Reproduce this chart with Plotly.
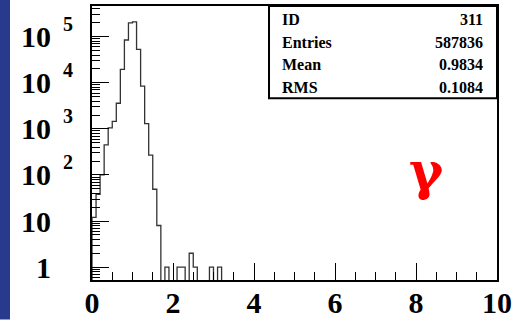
import plotly.graph_objects as go

# Histogram 311: 100 bins of width 0.1 on [0, 10]
bin_width = 0.1
n_bins = 100
first_bins = [12, 38, 100, 450, 1050, 1450, 3600, 19600, 85000, 200000,
              210000, 53000, 8500, 1300, 270, 49, 8, 0, 1, 0,
              0, 1, 1, 0, 2, 1, 0, 0, 0, 1, 0, 1]
counts = first_bins + [0] * (n_bins - len(first_bins))

stats_labels = ["ID", "Entries", "Mean", "RMS"]
stats_values = ["311", "587836", "0.9834", "0.1084"]

x_tick_vals = [0, 2, 4, 6, 8, 10]
x_tick_text = ["0", "2", "4", "6", "8", "10"]
y_tick_vals = [1, 10, 100, 1000, 10000, 100000]
y_tick_text = ["1", "10", "10", "10", "10", "10"]
y_exponents = ["", "", "2", "3", "4", "5"]

# page geometry (pixels)
W, H = 514, 320
L, R, T, B = 92, 17, 6, 39.5
PW, PH = W - L - R, H - T - B


def px_x(p):
    return (p - L) / PW


def px_y(p):
    return (H - B - p) / PH


# step outline of the histogram; empty bins are not drawn (log scale)
base = 1e-2
xs, ys = [], []
i = 0
while i < n_bins:
    if counts[i] > 0:
        xs.append(i * bin_width)
        ys.append(base)
        while i < n_bins and counts[i] > 0:
            xs += [i * bin_width, (i + 1) * bin_width]
            ys += [counts[i], counts[i]]
            i += 1
        xs.append(i * bin_width)
        ys.append(base)
        xs.append(None)
        ys.append(None)
    else:
        i += 1

fig = go.Figure()
fig.add_trace(go.Scatter(x=xs, y=ys, mode="lines",
                         line=dict(color="#333333", width=1.3),
                         hoverinfo="skip", showlegend=False))

serif = "Liberation Serif"
x_minor = [k * 0.5 for k in range(21) if k % 4 != 0]
y_minor = [m * 10 ** d for d in range(-1, 6) for m in range(2, 10)]

fig.update_layout(
    width=W, height=H,
    margin=dict(l=L, r=R, t=T, b=B, pad=0, autoexpand=False),
    paper_bgcolor="white", plot_bgcolor="white",
    font=dict(family=serif, color="black", weight="bold"),
    xaxis=dict(range=[0, 10], showline=True, linewidth=2, linecolor="black",
               mirror=True, showgrid=False, zeroline=False, automargin=False,
               ticks="inside", ticklen=17, tickwidth=1, tickcolor="black",
               tickvals=x_tick_vals, ticktext=x_tick_text,
               tickfont=dict(size=30, family=serif, weight="bold"),
               ticklabelstandoff=-5,
               minor=dict(tickvals=x_minor, ticks="inside", ticklen=8,
                          tickwidth=1, tickcolor="black", showgrid=False)),
    yaxis=dict(type="log", range=[-0.28, 5.667], showline=True, linewidth=2,
               linecolor="black", mirror=True, showgrid=False, zeroline=False,
               automargin=False,
               ticks="inside", ticklen=17, tickwidth=1, tickcolor="black",
               tickvals=y_tick_vals, ticktext=y_tick_text,
               tickfont=dict(size=30, family=serif, weight="bold"),
               ticklabelstandoff=33,
               minor=dict(tickvals=y_minor, ticks="inside", ticklen=8,
                          tickwidth=1, tickcolor="black", showgrid=False)),
)

# blue strip at the left edge of the page
fig.add_shape(type="rect", xref="paper", yref="paper",
              x0=px_x(0), x1=px_x(10), y0=px_y(H), y1=px_y(0),
              fillcolor="#283a8c", line=dict(width=0), layer="below")

# statistics box
fig.add_shape(type="rect", xref="paper", yref="paper",
              x0=px_x(269), x1=1, y0=px_y(98.3), y1=1,
              fillcolor="white", line=dict(color="black", width=2))
row_y = [20, 42.7, 64.3, 87.3]
for lab, val, ry in zip(stats_labels, stats_values, row_y):
    fig.add_annotation(xref="paper", yref="paper", x=px_x(280), y=px_y(ry),
                       xanchor="left", yanchor="middle", showarrow=False,
                       text=lab, font=dict(size=16, family=serif, weight="bold"))
    fig.add_annotation(xref="paper", yref="paper", x=px_x(485), y=px_y(ry),
                       xanchor="right", yanchor="middle", showarrow=False,
                       text=val, font=dict(size=16, family=serif, weight="bold"))

# decade exponents next to the "10" labels
for v, e in zip(y_tick_vals, y_exponents):
    if e:
        fig.add_annotation(xref="paper", yref="y", x=px_x(61), y=len(str(v)) - 1,
                           xanchor="left", yanchor="middle", yshift=13,
                           showarrow=False, text=e,
                           font=dict(size=20, family=serif, weight="bold"))

# particle label
fig.add_annotation(xref="paper", yref="paper", x=px_x(426), y=px_y(171),
                   xanchor="center", yanchor="middle", showarrow=False,
                   text="γ", font=dict(size=52, family="DejaVu Serif",
                                       color="#ff0000", weight="bold"))

fig.write_html("out.html")
